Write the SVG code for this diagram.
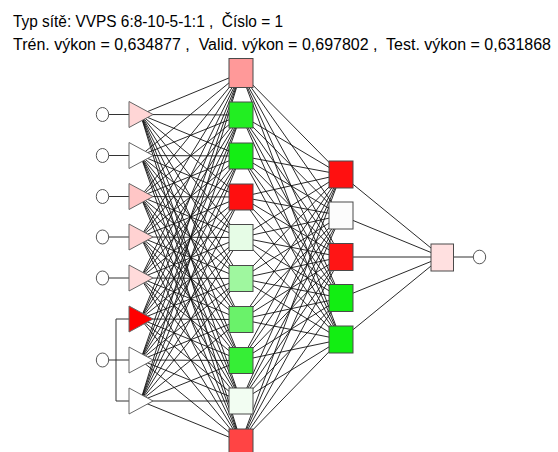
<svg xmlns="http://www.w3.org/2000/svg" width="558" height="452" viewBox="0 0 558 452">
  <style>
    .title { font-family: "Liberation Sans", Arial, sans-serif; font-size: 16px; fill: #000; white-space: pre; }
    .wire { fill: none; stroke: #111; stroke-width: 0.9; }
    .lead { fill: none; stroke: #333; stroke-width: 1; }
    .port { fill: #fff; stroke: #555; stroke-width: 1; }
    .tri { stroke: #666; stroke-width: 1; stroke-linejoin: miter; }
    .box { stroke: #4a4a4a; stroke-width: 1; }
  </style>

  <rect width="558" height="452" fill="#fff"/>

  <text class="title" x="13" y="26.5" textLength="270" lengthAdjust="spacingAndGlyphs" xml:space="preserve">Typ sítě: VVPS 6:8-10-5-1:1 ,  Číslo = 1</text>
  <text class="title" x="13" y="50" textLength="538" lengthAdjust="spacingAndGlyphs" xml:space="preserve">Trén. výkon = 0,634877 ,  Valid. výkon = 0,697802 ,  Test. výkon = 0,631868</text>

  <!-- weighted links, drawn beneath the neurons -->
  <g id="connectors">
    <g class="wire">
      <!-- input layer to hidden layer 1 -->
      <path d="M140.5 114.5L241 73M140.5 114.5L241 115M140.5 114.5L241 156M140.5 114.5L241 197M140.5 114.5L241 237.5M140.5 114.5L241 278.5M140.5 114.5L241 319.5M140.5 114.5L241 360.5M140.5 114.5L241 401M140.5 114.5L241 442"/>
      <path d="M140.5 155.5L241 73M140.5 155.5L241 115M140.5 155.5L241 156M140.5 155.5L241 197M140.5 155.5L241 237.5M140.5 155.5L241 278.5M140.5 155.5L241 319.5M140.5 155.5L241 360.5M140.5 155.5L241 401M140.5 155.5L241 442"/>
      <path d="M140.5 196.5L241 73M140.5 196.5L241 115M140.5 196.5L241 156M140.5 196.5L241 197M140.5 196.5L241 237.5M140.5 196.5L241 278.5M140.5 196.5L241 319.5M140.5 196.5L241 360.5M140.5 196.5L241 401M140.5 196.5L241 442"/>
      <path d="M140.5 237L241 73M140.5 237L241 115M140.5 237L241 156M140.5 237L241 197M140.5 237L241 237.5M140.5 237L241 278.5M140.5 237L241 319.5M140.5 237L241 360.5M140.5 237L241 401M140.5 237L241 442"/>
      <path d="M140.5 278L241 73M140.5 278L241 115M140.5 278L241 156M140.5 278L241 197M140.5 278L241 237.5M140.5 278L241 278.5M140.5 278L241 319.5M140.5 278L241 360.5M140.5 278L241 401M140.5 278L241 442"/>
      <path d="M140.5 319L241 73M140.5 319L241 115M140.5 319L241 156M140.5 319L241 197M140.5 319L241 237.5M140.5 319L241 278.5M140.5 319L241 319.5M140.5 319L241 360.5M140.5 319L241 401M140.5 319L241 442"/>
      <path d="M140.5 360L241 73M140.5 360L241 115M140.5 360L241 156M140.5 360L241 197M140.5 360L241 237.5M140.5 360L241 278.5M140.5 360L241 319.5M140.5 360L241 360.5M140.5 360L241 401M140.5 360L241 442"/>
      <path d="M140.5 401L241 73M140.5 401L241 115M140.5 401L241 156M140.5 401L241 197M140.5 401L241 237.5M140.5 401L241 278.5M140.5 401L241 319.5M140.5 401L241 360.5M140.5 401L241 401M140.5 401L241 442"/>
      <!-- hidden layer 1 to hidden layer 2 -->
      <path d="M241 73L341 174.5M241 73L341 215.5M241 73L341 257M241 73L341 298M241 73L341 339.5"/>
      <path d="M241 115L341 174.5M241 115L341 215.5M241 115L341 257M241 115L341 298M241 115L341 339.5"/>
      <path d="M241 156L341 174.5M241 156L341 215.5M241 156L341 257M241 156L341 298M241 156L341 339.5"/>
      <path d="M241 197L341 174.5M241 197L341 215.5M241 197L341 257M241 197L341 298M241 197L341 339.5"/>
      <path d="M241 237.5L341 174.5M241 237.5L341 215.5M241 237.5L341 257M241 237.5L341 298M241 237.5L341 339.5"/>
      <path d="M241 278.5L341 174.5M241 278.5L341 215.5M241 278.5L341 257M241 278.5L341 298M241 278.5L341 339.5"/>
      <path d="M241 319.5L341 174.5M241 319.5L341 215.5M241 319.5L341 257M241 319.5L341 298M241 319.5L341 339.5"/>
      <path d="M241 360.5L341 174.5M241 360.5L341 215.5M241 360.5L341 257M241 360.5L341 298M241 360.5L341 339.5"/>
      <path d="M241 401L341 174.5M241 401L341 215.5M241 401L341 257M241 401L341 298M241 401L341 339.5"/>
      <path d="M241 442L341 174.5M241 442L341 215.5M241 442L341 257M241 442L341 298M241 442L341 339.5"/>
      <!-- hidden layer 2 to output -->
      <path d="M341 174.5L442 257M341 215.5L442 257M341 257L442 257M341 298L442 257M341 339.5L442 257"/>
    </g>
    <!-- input leads -->
    <g class="lead">
      <path d="M108.5 114.5H129M108.5 155.5H129M108.5 196.5H129M108.5 237H129M108.5 278H129"/>
      <path d="M108.5 360H129M116 319V401M116 319H129M116 401H129"/>
      <path d="M453 257H473.5"/>
    </g>
  </g>

  <!-- input layer -->
  <g id="in-1"><ellipse class="port" cx="102.5" cy="114.5" rx="6.2" ry="7"/><polygon class="tri" points="129,101.5 129,127.5 153,114.5" fill="#ffd6d6"/></g>
  <g id="in-2"><ellipse class="port" cx="102.5" cy="155.5" rx="6.2" ry="7"/><polygon class="tri" points="129,142.5 129,168.5 153,155.5" fill="#ffffff"/></g>
  <g id="in-3"><ellipse class="port" cx="102.5" cy="196.5" rx="6.2" ry="7"/><polygon class="tri" points="129,183.5 129,209.5 153,196.5" fill="#ffc6c6"/></g>
  <g id="in-4"><ellipse class="port" cx="102.5" cy="237" rx="6.2" ry="7"/><polygon class="tri" points="129,224 129,250 153,237" fill="#ffd2d2"/></g>
  <g id="in-5"><ellipse class="port" cx="102.5" cy="278" rx="6.2" ry="7"/><polygon class="tri" points="129,265 129,291 153,278" fill="#ffdada"/></g>
  <g id="in-6">
    <ellipse class="port" cx="102.5" cy="360" rx="6.2" ry="7"/>
    <polygon class="tri" points="129,306 129,332 153,319" fill="#ff0000"/>
    <polygon class="tri" points="129,347 129,373 153,360" fill="#ffffff"/>
    <polygon class="tri" points="129,388 129,414 153,401" fill="#ffffff"/>
  </g>

  <!-- hidden layer 1 -->
  <g id="h1-1"><rect class="box" x="229" y="58.5" width="24" height="29" fill="#ff9999"/></g>
  <g id="h1-2"><rect class="box" x="229" y="102" width="24" height="26" fill="#22ee22"/></g>
  <g id="h1-3"><rect class="box" x="229" y="143" width="24" height="26" fill="#14ee14"/></g>
  <g id="h1-4"><rect class="box" x="229" y="184" width="24" height="26" fill="#ff0f0f"/></g>
  <g id="h1-5"><rect class="box" x="229" y="224.5" width="24" height="26" fill="#e6fce6"/></g>
  <g id="h1-6"><rect class="box" x="229" y="265.5" width="24" height="26" fill="#9ff79f"/></g>
  <g id="h1-7"><rect class="box" x="229" y="306.5" width="24" height="26" fill="#6af26a"/></g>
  <g id="h1-8"><rect class="box" x="229" y="347.5" width="24" height="26" fill="#36ee36"/></g>
  <g id="h1-9"><rect class="box" x="229" y="388" width="24" height="26" fill="#f2fdf2"/></g>
  <g id="h1-10"><rect class="box" x="229" y="429" width="24" height="26" fill="#ff4444"/></g>

  <!-- hidden layer 2 -->
  <g id="h2-1"><rect class="box" x="329" y="161" width="24" height="27" fill="#ff1010"/></g>
  <g id="h2-2"><rect class="box" x="329" y="202" width="24" height="27" fill="#fcfcfc"/></g>
  <g id="h2-3"><rect class="box" x="329" y="243.5" width="24" height="27" fill="#ff1515"/></g>
  <g id="h2-4"><rect class="box" x="329" y="284.5" width="24" height="27" fill="#12ee12"/></g>
  <g id="h2-5"><rect class="box" x="329" y="326" width="24" height="27" fill="#12ee12"/></g>

  <!-- output -->
  <g id="out-1">
    <rect class="box" x="431" y="244" width="22.5" height="27" fill="#ffe0e0"/>
    <ellipse class="port" cx="479.5" cy="257" rx="6.2" ry="6.8"/>
  </g>
</svg>
